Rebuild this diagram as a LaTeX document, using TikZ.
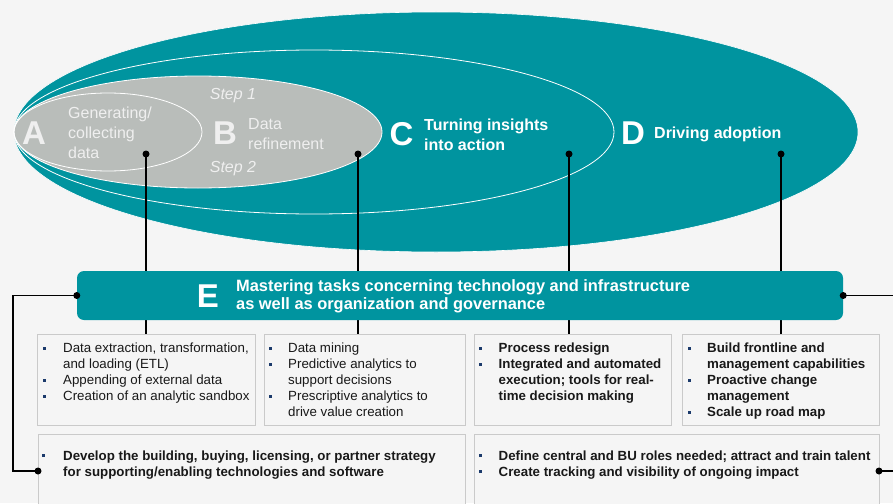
\documentclass[tikz,border=0pt]{standalone}
\usepackage{fontspec}
\setmainfont{Liberation Sans}
\definecolor{bgc}{HTML}{F5F5F5}
\definecolor{tealc}{HTML}{00949F}
\definecolor{ovgray}{HTML}{B9BDBA}
\definecolor{gtext}{HTML}{EFEFEF}
\definecolor{boxln}{HTML}{CACACA}
\definecolor{sqblue}{HTML}{1B3A6B}
\newcommand{\sq}{\textcolor{sqblue}{\rule[3.2pt]{3.2pt}{3.2pt}}}
\tikzset{
 big/.style={inner sep=0, font=\fontsize{33}{33}\selectfont\bfseries, text=white},
 gtxt/.style={inner sep=0, align=left, font=\fontsize{16}{20}\selectfont, text=gtext},
 wtxt/.style={inner sep=0, align=left, font=\fontsize{16}{20}\selectfont\bfseries, text=white},
 steptxt/.style={inner sep=0, font=\fontsize{16}{16}\selectfont\itshape, text=gtext},
 etxt/.style={inner sep=0, align=left, font=\fontsize{16.4}{18.3}\selectfont\bfseries, text=white},
 ebar/.style={fill=tealc, rounded corners=7, minimum width=766, minimum height=49, inner sep=0},
 tbox/.style={draw=boxln, line width=1.3, fill=bgc, anchor=north west, minimum height=91, inner sep=0},
 lst/.style={inner sep=0, anchor=north west, font=\fontsize{13.3}{16}\selectfont, text=black!90},
 conn/.style={line width=1.3, black}
}
\begin{document}
\begin{tikzpicture}[x=1pt,y=-1pt]
 \fill[bgc] (0,0) rectangle (893,503); %背景
 \useasboundingbox (0,0) rectangle (893,503);
 \filldraw[fill=tealc, draw=white, line width=0.6] (436,132) ellipse (422 and 120); %D
 \draw[white, line width=0.8] (314,132) ellipse (300 and 82); %C
 \filldraw[fill=ovgray, draw=white, line width=0.8] (198,132) ellipse (184 and 56); %B
 \draw[white, line width=0.8] (108,132) ellipse (94 and 39); %A

 \node[big, text=gtext] (A) at (34,133.5) {A};
 \node[gtxt, anchor=west] (Atx) at (68,133) {Generating/\\collecting\\data};
 \node[big, text=gtext] (B) at (225,133.5) {B};
 \node[gtxt, anchor=west] (Btx) at (248,134.5) {Data\\refinement};
 \node[steptxt] (s1) at (233,96) {Step 1};
 \node[steptxt] (s2) at (233,168.5) {Step 2};
 \node[big] (C) at (401.5,134) {C};
 \node[wtxt, anchor=west] (Ctx) at (424,134.5) {Turning insights\\into action};
 \node[big] (D) at (633,133.5) {D};
 \node[wtxt, anchor=west] (Dtx) at (654,134) {Driving adoption};

 \coordinate (pA) at (146,154); %点
 \coordinate (pB) at (358,154);
 \coordinate (pC) at (569,154);
 \coordinate (pD) at (781,154);

 \node[tbox, minimum width=218] (b1) at (37,333.5) {}; %上の箱
 \node[tbox, minimum width=201] (b2) at (264,333.5) {};
 \node[tbox, minimum width=197] (b3) at (474,333.5) {};
 \node[tbox, minimum width=197] (b4) at (682,333.5) {};
 \node[tbox, minimum width=427, minimum height=75] (c1) at (38,434) {}; %下の箱
 \node[tbox, minimum width=405, minimum height=75] (c2) at (474,434) {};

 \node[lst] (t1) at ([shift={(6,8)}]b1.north west) {\begin{tabular}{@{}p{20pt}@{}l@{}}
  \sq & Data extraction, transformation,\\ & and loading (ETL)\\
  \sq & Appending of external data\\ \sq & Creation of an analytic sandbox\end{tabular}};
 \node[lst] (t2) at ([shift={(5,8)}]b2.north west) {\begin{tabular}{@{}p{19pt}@{}l@{}}
  \sq & Data mining\\ \sq & Predictive analytics to\\ & support decisions\\
  \sq & Prescriptive analytics to\\ & drive value creation\end{tabular}};
 \node[lst, font=\fontsize{13.3}{16}\selectfont\bfseries] (t3) at ([shift={(5,8)}]b3.north west) {\begin{tabular}{@{}p{19.5pt}@{}l@{}}
  \sq & Process redesign\\ \sq & Integrated and automated\\ & execution; tools for real-\\
  & time decision making\end{tabular}};
 \node[lst, font=\fontsize{13.3}{16}\selectfont\bfseries] (t4) at ([shift={(5.5,8)}]b4.north west) {\begin{tabular}{@{}p{19.5pt}@{}l@{}}
  \sq & Build frontline and\\ & management capabilities\\ \sq & Proactive change\\
  & management\\ \sq & Scale up road map\end{tabular}};
 \node[lst, font=\fontsize{13.3}{16}\selectfont\bfseries] (t5) at ([shift={(4,15)}]c1.north west) {\begin{tabular}{@{}p{21pt}@{}l@{}}
  \sq & Develop the building, buying, licensing, or partner strategy\\
  & for supporting/enabling technologies and software\end{tabular}};
 \node[lst, font=\fontsize{13.3}{16}\selectfont\bfseries] (t6) at ([shift={(5,15)}]c2.north west) {\begin{tabular}{@{}p{19.5pt}@{}l@{}}
  \sq & Define central and BU roles needed; attract and train talent\\
  \sq & Create tracking and visibility of ongoing impact\end{tabular}};

 \draw[conn] (pA) -- (pA |- b1.north); %縦線
 \draw[conn] (pB) -- (pB |- b2.north);
 \draw[conn] (pC) -- (pC |- b3.north);
 \draw[conn] (pD) -- (pD |- b4.north);

 \node[ebar] (E) at (460,295.5) {}; %E帯
 \node[big] (Elt) at (208,296) {E};
 \node[etxt, anchor=west] (Etx) at (236,296) {Mastering tasks concerning technology and infrastructure\\as well as organization and governance};

 \coordinate (Lk) at (13,295.5);
 \coordinate (cL) at (38,471);
 \coordinate (Rk) at (893,295.5);
 \coordinate (cR) at (879,471);
 \coordinate (Rk2) at (893,471);
 \draw[conn] (E.west) -- (Lk) |- (cL);
 \draw[conn] (E.east) -- (Rk);
 \draw[conn] (cR) -- (Rk2);

 \fill (pA) circle (3.5);
 \fill (pB) circle (3.5);
 \fill (pC) circle (3.5);
 \fill (pD) circle (3.5);
 \fill (E.west) circle (3.5);
 \fill (E.east) circle (3.5);
 \fill (cL) circle (3.5);
 \fill (cR) circle (3.5);
\end{tikzpicture}
\end{document}
